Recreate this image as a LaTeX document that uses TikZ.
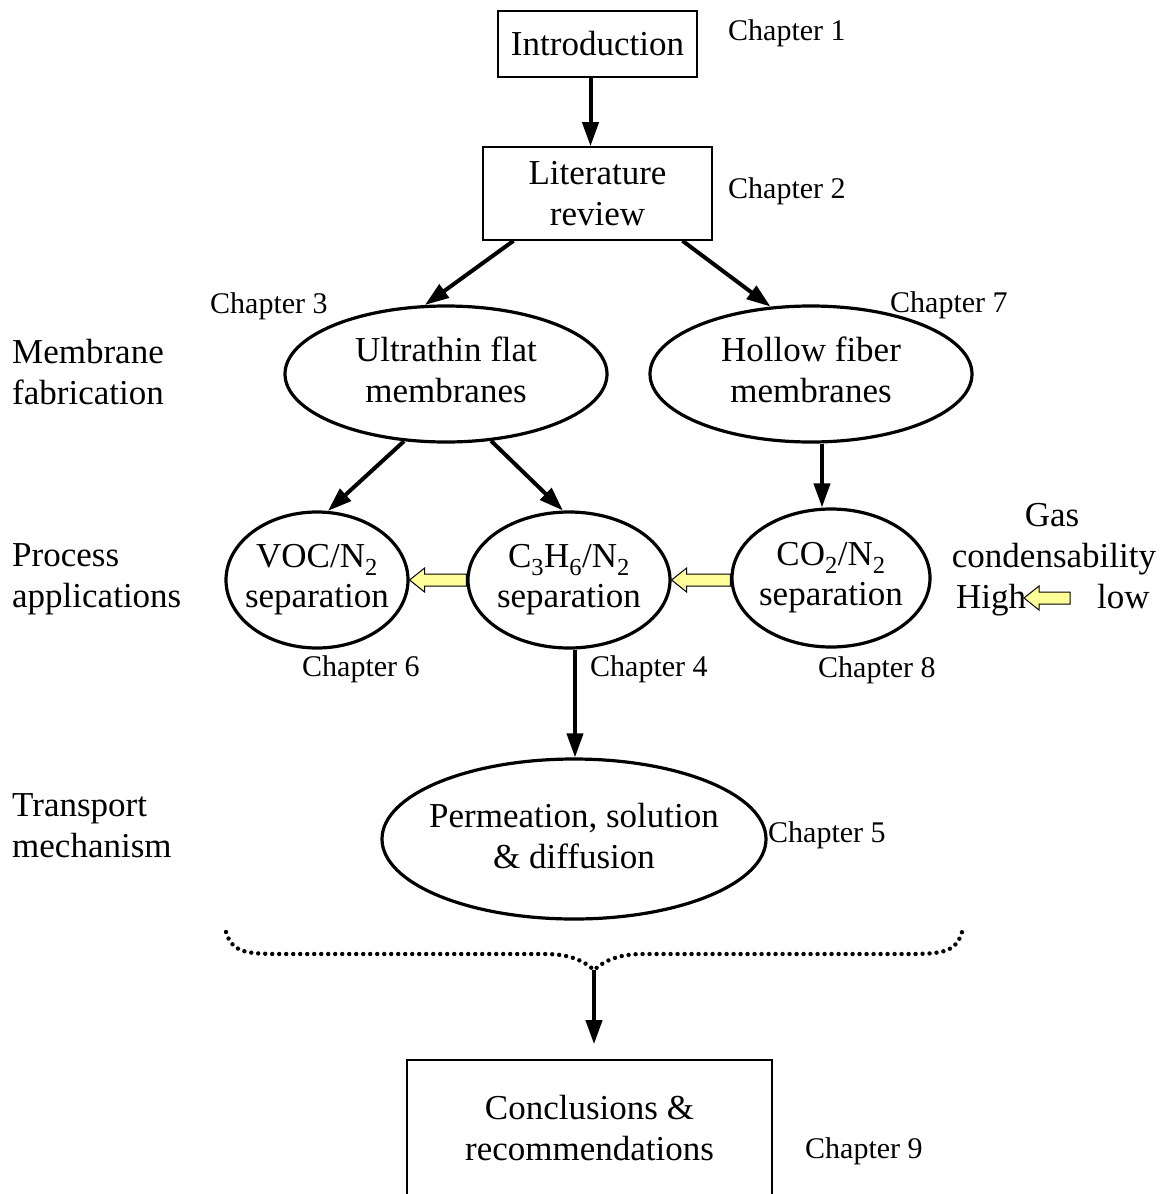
\documentclass[tikz,border=0pt]{standalone}
\usepackage{fontspec}
\setmainfont{Liberation Serif}
\usetikzlibrary{arrows.meta,calc,shapes.geometric}
\definecolor{yellowfill}{RGB}{255,255,153}
\newcommand\yellowarrow[2]{%
  \draw[yarr] let \p1=(#1), \p2=(#2) in
    (\x1,\y1) -- (\x1+15,\y1+12) -- (\x1+15,\y1+6) -- (\x2,\y1+6)
    -- (\x2,\y1-6) -- (\x1+15,\y1-6) -- (\x1+15,\y1-12) -- cycle;}
\begin{document}
\begin{tikzpicture}[x=1pt,y=-1pt,
  big/.style={font=\fontsize{35}{41}\selectfont, inner sep=0pt},
  tight/.style={font=\fontsize{35}{40}\selectfont, inner sep=0pt},
  chap/.style={font=\fontsize{30}{34}\selectfont, inner sep=0pt, anchor=base west},
  side/.style={big, anchor=north west, align=left},
  boxnode/.style={draw, line width=1.6pt, inner sep=0pt, align=center, font=\fontsize{35}{41}\selectfont},
  ell/.style={draw, ellipse, line width=3.2pt, inner sep=0pt},
  etext/.style={big, align=center},
  arr/.style={line width=4pt, -{Triangle[length=24pt,width=16pt]}},
  yarr/.style={draw=black, line width=1pt, fill=yellowfill, line join=miter},
  brace/.style={line width=4.4pt, line cap=round, dash pattern=on 0pt off 7pt},
]
\clip (0,0) rectangle (1164,1194);
\fill[white] (0,0) rectangle (1164,1194);

% boxes
\node[boxnode, minimum width=199, minimum height=66] (intro) at (597.5,44) {Introduction};
\node[boxnode, minimum width=229, minimum height=93] (lit) at (597.5,193.5) {Literature\\review};
\node[boxnode, minimum width=365, minimum height=137] (concl) at (589.5,1128.5) {Conclusions \&\\recommendations};

% ellipses
\node[ell, minimum width=322, minimum height=136] (ultra) at (446,374) {};
\node[etext, yshift=4pt] (ultratext) at (ultra) {Ultrathin flat\\membranes};
\node[ell, minimum width=322, minimum height=136] (hollow) at (811,374) {};
\node[etext, yshift=4pt] (hollowtext) at (hollow) {Hollow fiber\\membranes};
\node[ell, minimum width=182, minimum height=136] (voc) at (317,580) {};
\node[tight, align=center] (voctext) at (voc) {VOC/N\textsubscript{2}\\separation};
\node[ell, minimum width=202, minimum height=136] (c3) at (569,580) {};
\node[tight, align=center] (c3text) at (c3) {C\textsubscript{3}H\textsubscript{6}/N\textsubscript{2}\\separation};
\node[ell, minimum width=198, minimum height=138] (co2) at (831,578) {};
\node[tight, align=center] (co2text) at (co2) {CO\textsubscript{2}/N\textsubscript{2}\\separation};
\node[ell, minimum width=384, minimum height=160] (perm) at (574,839) {};
\node[etext, yshift=3pt] (permtext) at (perm) {Permeation, solution\\\& diffusion};

% chapter labels
\node[chap] (ch1) at (728,40) {Chapter 1};
\node[chap] (ch2) at (728,198) {Chapter 2};
\node[chap] (ch3) at (210,313) {Chapter 3};
\node[chap] (ch7) at (890,312) {Chapter 7};
\node[chap] (ch6) at (302,676) {Chapter 6};
\node[chap] (ch4) at (590,676) {Chapter 4};
\node[chap] (ch8) at (818,677) {Chapter 8};
\node[chap] (ch5) at (768,842) {Chapter 5};
\node[chap] (ch9) at (805,1158) {Chapter 9};

% side labels
\node[side] (fab) at (12,338.8) {Membrane\\fabrication};
\node[side] (proc) at (12,543.8) {Process\\applications};
\node[side] (trans) at (12,793.8) {Transport\\mechanism};

% legend
\node[big, anchor=base] (gas) at (1052,526) {Gas};
\node[big, anchor=base] (cond) at (1054,567) {condensability};
\node[big, anchor=base west] (high) at (956,608) {High};
\node[big, anchor=base west] (low) at (1097,608) {low};
\coordinate (ltip) at (1024,598);
\coordinate (ltail) at (1070,598);

% black arrows
\draw[arr] ([xshift=-7pt]intro.south) -- ([xshift=-7pt]lit.north);
\draw[arr] ([xshift=-84pt]lit.south) -- (ultra.107);
\draw[arr] ([xshift=85pt]lit.south) -- (hollow.121);
\draw[arr] (ultra.-122) -- (voc.81);
\draw[arr] (ultra.-56) -- (c3.95);
\draw[arr] ([xshift=11pt]hollow.south) -- ([xshift=-9pt]co2.north);
\draw[arr] ([xshift=6pt]c3.south) -- ([xshift=1pt]perm.north);

% yellow arrows
\yellowarrow{voc.east}{c3.west}
\yellowarrow{c3.east}{co2.west}
\yellowarrow{ltip}{ltail}

% dotted brace
\coordinate (bl) at (226,932);
\coordinate (br) at (962,932);
\coordinate (btip) at (594,970);
\draw[brace] (bl) .. controls (232,952) and (245,954) .. (280,954)
  -- (545,954) .. controls (572,954) and (585,962) .. (btip)
  .. controls (603,962) and (616,954) .. (643,954)
  -- (908,954) .. controls (943,954) and (956,952) .. (br);
\draw[arr, shorten >=15pt] (btip) -- (btip |- concl.north);
\end{tikzpicture}
\end{document}
